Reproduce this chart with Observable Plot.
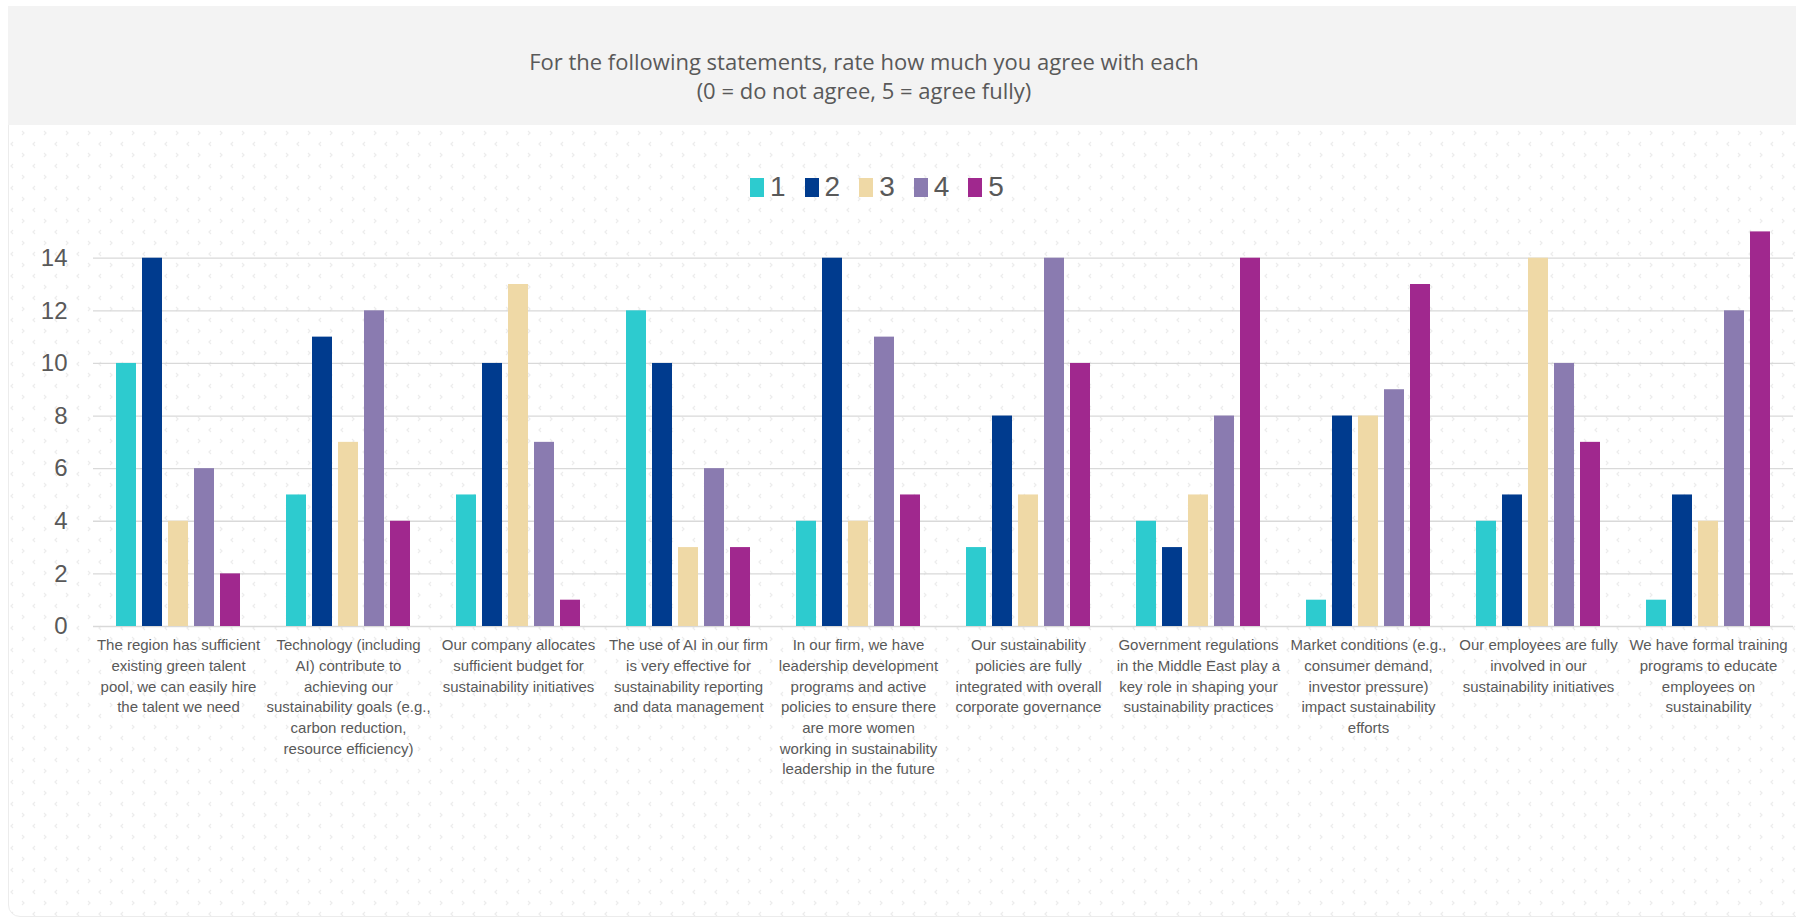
<!DOCTYPE html>
<html>
<head>
<meta charset="utf-8">
<script src="https://cdn.jsdelivr.net/npm/d3@7"></script>
<script src="https://cdn.jsdelivr.net/npm/@observablehq/plot@0.6"></script>
<style>
  html, body { margin: 0; padding: 0; background: #ffffff; width: 1796px; height: 924px; overflow: hidden; }
  #card {
    position: absolute; left: 8px; top: 6px; width: 1800px; height: 911px;
    border: 1px solid #ececec; border-radius: 0 0 12px 12px; box-sizing: border-box;
    background-color: #ffffff;
    background-image: url("data:image/svg+xml;utf8,<svg xmlns='http://www.w3.org/2000/svg' width='22' height='22'><path d='M4 3 L2 5 L4 7' fill='none' stroke='%23ececec' stroke-width='1.2'/><path d='M13 14 L15 16 L13 18' fill='none' stroke='%23ececec' stroke-width='1.2'/></svg>");
  }
  #band { position: absolute; left: 8px; top: 6px; width: 1800px; height: 119px; background: #f3f3f3; }
  #title {
    position: absolute; left: 8px; top: 47px; width: 1712px; text-align: center;
    font-family: "Open Sans", sans-serif; font-size: 22px; line-height: 29px; color: #595959;
  }
  #legend {
    position: absolute; left: 750px; top: 170px; height: 34px; display: flex; align-items: center;
    font-family: "Liberation Sans", Arial, sans-serif; font-size: 28px; color: #595959;
  }
  #legend .item { display: flex; align-items: center; margin-right: 19px; }
  #legend .sw { width: 14px; height: 19px; margin-right: 6px; }
  #chart { position: absolute; left: 0; top: 200px; }
</style>
</head>
<body>
<div id="card"></div>
<div id="band"></div>
<div id="title">For the following statements, rate how much you agree with each<br>(0 = do not agree, 5 = agree fully)</div>
<div id="legend"></div>
<div id="chart"></div>
<script>
const categories = [
  "The region has sufficient existing green talent pool, we can easily hire the talent we need",
  "Technology (including AI) contribute to achieving our sustainability goals (e.g., carbon reduction, resource efficiency)",
  "Our company allocates sufficient budget for sustainability initiatives",
  "The use of AI in our firm is very effective for sustainability reporting and data management",
  "In our firm, we have leadership development programs and active policies to ensure there are more women working in sustainability leadership in the future",
  "Our sustainability policies are fully integrated with overall corporate governance",
  "Government regulations in the Middle East play a key role in shaping your sustainability practices",
  "Market conditions (e.g., consumer demand, investor pressure) impact sustainability efforts",
  "Our employees are fully involved in our sustainability initiatives",
  "We have formal training programs to educate employees on sustainability"
];
const tickLabels = [
  "The region has sufficient\nexisting green talent\npool, we can easily hire\nthe talent we need",
  "Technology (including\nAI) contribute to\nachieving our\nsustainability goals (e.g.,\ncarbon reduction,\nresource efficiency)",
  "Our company allocates\nsufficient budget for\nsustainability initiatives",
  "The use of AI in our firm\nis very effective for\nsustainability reporting\nand data management",
  "In our firm, we have\nleadership development\nprograms and active\npolicies to ensure there\nare more women\nworking in sustainability\nleadership in the future",
  "Our sustainability\npolicies are fully\nintegrated with overall\ncorporate governance",
  "Government regulations\nin the Middle East play a\nkey role in shaping your\nsustainability practices",
  "Market conditions (e.g.,\nconsumer demand,\ninvestor pressure)\nimpact sustainability\nefforts",
  "Our employees are fully\ninvolved in our\nsustainability initiatives",
  "We have formal training\nprograms to educate\nemployees on\nsustainability"
];
const ratings = ["1", "2", "3", "4", "5"];
const rating1 = [10, 5, 5, 12, 4, 3, 4, 1, 4, 1];
const rating2 = [14, 11, 10, 10, 14, 8, 3, 8, 5, 5];
const rating3 = [4, 7, 13, 3, 4, 5, 5, 8, 14, 4];
const rating4 = [6, 12, 7, 6, 11, 14, 8, 9, 10, 12];
const rating5 = [2, 4, 1, 3, 5, 10, 14, 13, 7, 15];
const colors = ["#2dcbcf", "#003b8e", "#efd9a6", "#8a7bb0", "#a0288e"];
const yTicks = [0, 2, 4, 6, 8, 10, 12, 14];

const seriesValues = [rating1, rating2, rating3, rating4, rating5];
const rows = [];
categories.forEach((c, i) => {
  ratings.forEach((r, j) => rows.push({category: c, rating: r, value: seriesValues[j][i]}));
});

// legend
const legend = document.getElementById("legend");
ratings.forEach((r, j) => {
  const item = document.createElement("div");
  item.className = "item";
  const sw = document.createElement("div");
  sw.className = "sw";
  sw.style.background = colors[j];
  const t = document.createElement("span");
  t.textContent = r;
  item.appendChild(sw); item.appendChild(t);
  legend.appendChild(item);
});

const chart = Plot.plot({
  width: 1796,
  height: 720,
  marginLeft: 93,
  marginRight: 3,
  marginTop: 31.4,
  marginBottom: 294,
  style: {background: "transparent", color: "#595959", overflow: "visible"},
  fx: {domain: categories, padding: 0, axis: null},
  x: {domain: ratings, paddingInner: 0.23, paddingOuter: 0.884, axis: null},
  y: {domain: [0, 15], axis: null},
  color: {domain: ratings, range: colors},
  marks: [
    Plot.gridY(yTicks, {stroke: "#d9d9d9", strokeOpacity: 1, strokeWidth: 1.3}),
    Plot.barY(rows, {fx: "category", x: "rating", y: "value", fill: "rating"}),
    Plot.axisY(yTicks, {tickSize: 0, tickPadding: 26, fontSize: 24, fontFamily: "Liberation Sans, Arial, sans-serif", fill: "#595959", label: null}),
    Plot.axisFx({anchor: "bottom", tickSize: 0, tickPadding: 9, fontSize: 15, lineHeight: 1.38,
      fontFamily: "Liberation Sans, Arial, sans-serif", fill: "#595959", label: null,
      tickFormat: (d) => tickLabels[categories.indexOf(d)]})
  ]
});
document.getElementById("chart").appendChild(chart);
</script>
</body>
</html>
